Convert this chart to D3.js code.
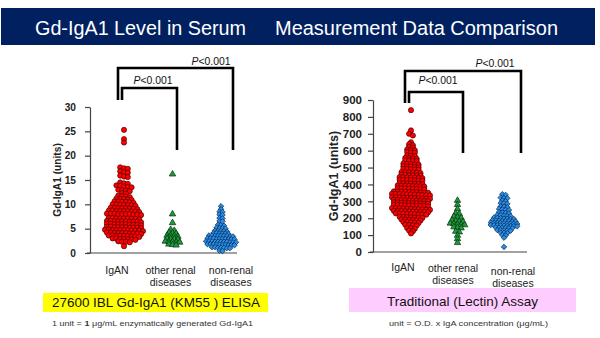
<!DOCTYPE html>
<html><head><meta charset="utf-8">
<script src="https://cdn.jsdelivr.net/npm/d3@7"></script>
<style>body{margin:0;background:#fff}svg{display:block;font-family:"Liberation Sans",Arial,sans-serif}</style>
</head><body><svg id="c" width="600" height="338"></svg>
<script>
// ---------- data ----------
const categories = ["IgAN", "other renal diseases", "non-renal diseases"];
const categoryLines = [["IgAN"], ["other renal", "diseases"], ["non-renal", "diseases"]];

const elisaTicks = [0, 5, 10, 15, 20, 25, 30];
const lectinTicks = [0, 100, 200, 300, 400, 500, 600, 700, 800, 900];

// 27600 IBL Gd-IgA1 (KM55) ELISA, units
const elisaIgAN = [
  25.3, 23.4, 22.7,
  17.6, 17.4, 17.3, 16.8, 16.6, 16.5, 15.9, 15.7, 15.6,
  14.5, 14.3, 14.2, 13.9, 13.8, 13.7, 13.6, 13.5, 13.0, 12.9, 12.8, 12.7, 12.3, 12.2,
  11.8, 11.7, 11.6, 11.5, 11.2, 11.1, 11.0, 10.9, 11.1,
  10.6, 10.5, 10.4, 10.5, 10.3, 10.6,
  10.0, 9.9, 9.8, 9.9, 9.7, 10.0, 9.8,
  9.3, 9.2, 9.1, 9.2, 9.0, 9.3, 9.1, 9.2,
  8.7, 8.6, 8.5, 8.6, 8.4, 8.7, 8.5, 8.6, 8.6,
  8.1, 8.0, 7.9, 8.0, 7.9, 8.1, 8.0, 7.8, 8.0, 8.1,
  7.2, 7.1, 7.0, 7.1, 6.9, 7.2, 7.0, 7.1, 7.1,
  6.6, 6.5, 6.4, 6.5, 6.3, 6.6, 6.4, 6.5, 6.5, 6.4,
  6.0, 5.9, 5.8, 5.9, 5.7, 6.0, 5.8, 5.9, 5.9, 5.8,
  5.4, 5.3, 5.2, 5.3, 5.1, 5.4, 5.2, 5.3, 5.3, 5.2,
  4.8, 4.7, 4.6, 4.7, 4.5, 4.8, 4.6, 4.7, 4.7, 4.6, 4.7,
  4.2, 4.1, 4.0, 4.1, 3.9, 4.2, 4.0, 4.1, 4.1, 4.0,
  3.6, 3.5, 3.4, 3.5, 3.3, 3.6, 3.4, 3.5, 3.5,
  3.0, 2.9, 2.8, 2.9, 2.7, 3.0, 2.8,
  2.4, 2.3, 2.2, 2.3,
  1.4
];
const elisaOther = [
  16.2, 8.0, 6.2, 4.8, 4.6, 4.2, 4.1, 4.0,
  3.6, 3.5, 3.5, 3.4, 3.0, 2.9, 2.9, 2.8,
  2.4, 2.3, 2.3, 2.2, 2.2, 1.8, 1.7, 1.6
];
const elisaNonRenal = [
  9.6, 9.0, 8.5, 8.4, 7.9, 7.8, 7.2, 7.1, 6.6, 6.5,
  5.8, 5.7, 5.6, 5.2, 5.1, 5.1, 5.0, 4.6, 4.5, 4.5, 4.5, 4.4,
  4.1, 4.1, 4.0, 4.0, 4.0, 3.9,
  3.6, 3.5, 3.5, 3.5, 3.4, 3.5, 3.6, 3.5, 3.4,
  3.0, 2.9, 2.8, 2.9, 2.8, 3.0, 2.9, 2.9, 2.8, 3.0,
  2.4, 2.3, 2.2, 2.3, 2.2, 2.4, 2.3, 2.3, 2.2, 2.4, 2.3,
  1.8, 1.7, 1.6, 1.7, 1.6, 1.8, 1.7, 1.7, 1.6, 1.8,
  1.2, 1.1, 1.0, 1.1, 1.0, 1.2, 1.1,
  0.5, 0.4
];

// Traditional (Lectin) Assay, units
const lectinIgAN = [
  840, 720, 700, 690, 650, 638, 632, 622, 618,
  607, 604, 602, 592, 588, 590, 572, 568, 570,
  557, 553, 555, 552, 542, 538, 540, 543,
  522, 518, 520, 523, 517, 507, 503, 505, 502, 508,
  492, 488, 490, 487, 493, 472, 468, 470, 473, 467, 471,
  457, 453, 455, 452, 458, 454, 442, 438, 440, 437, 443, 441, 439,
  427, 423, 425, 422, 428, 424, 426, 407, 403, 405, 402, 408, 404, 406,
  392, 388, 390, 387, 393, 389, 391, 394, 377, 373, 375, 372, 378, 374, 376, 371,
  357, 353, 355, 352, 358, 354, 356, 351, 359, 350,
  342, 338, 340, 337, 343, 339, 341, 336, 344, 335, 345,
  322, 318, 320, 317, 323, 319, 321, 316, 324, 315, 325,
  307, 303, 305, 302, 308, 304, 306, 301, 309, 300,
  292, 288, 290, 287, 293, 289, 291, 286, 294, 285,
  277, 273, 275, 272, 278, 274, 276, 271, 279, 270,
  257, 253, 255, 252, 258, 254, 256, 251, 259, 250, 260,
  242, 238, 240, 237, 243, 239, 241, 236, 244, 235,
  227, 223, 225, 222, 228, 224, 226, 221, 229,
  207, 203, 205, 202, 208, 204, 206,
  192, 188, 190, 187, 193, 189,
  177, 173, 175, 172, 178,
  162, 158, 160, 157,
  142, 138, 140, 127, 123, 110
];
const lectinOther = [
  305, 280, 255, 230, 226, 210, 206, 202, 188, 185, 182, 180,
  170, 167, 164, 162, 160, 148, 145, 142, 122, 118, 98, 78, 55
];
const lectinNonRenal = [
  342, 338, 322, 320, 318, 305, 301, 290, 288, 285, 270, 268, 265,
  255, 252, 250, 248, 236, 234, 231, 229, 220, 218, 216, 214, 212,
  204, 202, 200, 198, 197, 196, 195,
  188, 186, 185, 184, 183, 182, 181, 180,
  174, 173, 172, 171, 170, 169, 168, 167, 166,
  160, 159, 158, 157, 156, 155, 154, 153, 152,
  145, 144, 143, 142, 141, 140, 130, 129, 128, 127, 126,
  115, 114, 112, 100, 98, 85, 30
];

// ---------- drawing ----------
const svg = d3.select("#c");

// title banner
svg.append("rect").attr("x", 1).attr("y", 8).attr("width", 594).attr("height", 37).attr("fill", "#002060");
svg.append("text").attr("x", 35).attr("y", 35).attr("fill", "#fff").attr("font-size", 19.5)
  .attr("textLength", 211).attr("lengthAdjust", "spacingAndGlyphs").text("Gd-IgA1 Level in Serum");
svg.append("text").attr("x", 275).attr("y", 35).attr("fill", "#fff").attr("font-size", 19.5)
  .attr("textLength", 283).attr("lengthAdjust", "spacingAndGlyphs").text("Measurement Data Comparison");

const styles = [
  {sym: d3.symbolCircle, size: 21, fill: "#ff0000", stroke: "#4a0000", rot: 0},
  {sym: d3.symbolTriangle, size: 18, fill: "#1f9a3c", stroke: "#06300f", rot: 0},
  {sym: d3.symbolSquare, size: 15, fill: "#2b8fe8", stroke: "#062a55", rot: 45}
];

function rowsOf(values, tol) {
  const s = values.slice().sort((a, b) => b - a);
  const rows = [];
  let cur = null;
  s.forEach(v => {
    if (!cur || cur.start - v > tol) { cur = {start: v, vals: []}; rows.push(cur); }
    cur.vals.push(v);
  });
  return rows;
}

function drawChart(cfg) {
  const g = svg.append("g");
  const y = d3.scaleLinear().domain([cfg.ticks[0], cfg.ticks[cfg.ticks.length - 1]]).range(cfg.yRange);
  const x = d3.scalePoint().domain(categories).range(cfg.xRange);

  // axes
  const ax = g.append("g").attr("transform", `translate(${cfg.axisX},0)`)
    .call(d3.axisLeft(y).tickValues(cfg.ticks).tickSize(5).tickSizeOuter(0).tickPadding(cfg.pad));
  ax.select(".domain").attr("stroke", "#444").attr("stroke-width", 1.2);
  ax.selectAll(".tick line").attr("stroke", "#444").attr("stroke-width", 1.2);
  ax.selectAll(".tick text").attr("font-size", cfg.tickFont).attr("font-weight", "bold")
    .attr("fill", "#222").attr("font-family", "Liberation Sans, Arial, sans-serif");
  g.append("line").attr("x1", cfg.axisX - 3).attr("x2", cfg.axisEnd)
    .attr("y1", y(0)).attr("y2", y(0)).attr("stroke", "#444").attr("stroke-width", 1.2);

  // axis title
  g.append("text").attr("transform", `translate(${cfg.titleX},${(cfg.yRange[0] + cfg.yRange[1]) / 2}) rotate(-90)`)
    .attr("text-anchor", "middle").attr("font-weight", "bold").attr("font-size", cfg.titleFont)
    .attr("fill", "#222").text("Gd-IgA1 (units)");

  // category labels
  categories.forEach((c, i) => {
    const t = g.append("text").attr("text-anchor", "middle").attr("font-size", 10.5).attr("fill", "#222");
    categoryLines[i].forEach((ln, j) => {
      t.append("tspan").attr("x", x(c) + cfg.labelDx[i]).attr("y", cfg.labelY[i] + j * 12).text(ln);
    });
  });

  // dots
  cfg.series.forEach((vals, i) => {
    const st = styles[i];
    const sp = cfg.spacing[i];
    const gen = d3.symbol(st.sym, st.size);
    const pts = [];
    rowsOf(vals, cfg.tol).forEach(r => {
      const n = r.vals.length;
      r.vals.forEach((v, k) => pts.push({v, dx: (k - (n - 1) / 2) * sp}));
    });
    g.append("g").selectAll("path").data(pts).join("path")
      .attr("d", gen)
      .attr("transform", d => `translate(${x(categories[i]) + d.dx},${y(d.v)}) rotate(${st.rot})`)
      .attr("fill", st.fill).attr("stroke", st.stroke).attr("stroke-width", 0.7);
  });

  // significance brackets
  cfg.brackets.forEach(b => {
    g.append("path").attr("d", `M${b.x1},${b.yLow}V${b.yTop}H${b.x2}V${b.yEnd}`)
      .attr("fill", "none").attr("stroke", "#000").attr("stroke-width", 2.6);
    const t = g.append("text").attr("x", b.lx).attr("y", b.ly).attr("text-anchor", "middle")
      .attr("font-size", 10.4).attr("fill", "#111");
    t.append("tspan").attr("font-style", "italic").text("P");
    t.append("tspan").text("<0.001");
  });
}

drawChart({
  ticks: elisaTicks, yRange: [253, 107], xRange: [124, 221], axisX: 90, axisEnd: 237,
  pad: 9, tickFont: 10.2, titleFont: 10.2, titleX: 61,
  labelDx: [-7, -2, 10], labelY: [274, 274, 274],
  series: [elisaIgAN, elisaOther, elisaNonRenal], tol: 0.45, spacing: [3.8, 3.6, 3.0],
  brackets: [
    {x1: 118, x2: 233, yLow: 100, yTop: 68, yEnd: 150, lx: 211, ly: 65},
    {x1: 122, x2: 177, yLow: 100, yTop: 88, yEnd: 150, lx: 153, ly: 84}
  ]
});
drawChart({
  ticks: lectinTicks, yRange: [252, 100], xRange: [411, 504], axisX: 373, axisEnd: 527,
  pad: 6, tickFont: 11.5, titleFont: 12.5, titleX: 338,
  labelDx: [-8, -4.5, 9], labelY: [271, 272, 275],
  series: [lectinIgAN, lectinOther, lectinNonRenal], tol: 10, spacing: [3.8, 3.6, 3.3],
  brackets: [
    {x1: 405, x2: 521, yLow: 103, yTop: 71, yEnd: 153, lx: 495, ly: 67},
    {x1: 409, x2: 463, yLow: 103, yTop: 92, yEnd: 153, lx: 438, ly: 84}
  ]
});

// method boxes
svg.append("rect").attr("x", 43).attr("y", 293).attr("width", 225).attr("height", 19).attr("fill", "#ffff00");
svg.append("text").attr("x", 52).attr("y", 307).attr("font-size", 13.5).attr("fill", "#111")
  .attr("textLength", 208).attr("lengthAdjust", "spacingAndGlyphs").text("27600 IBL Gd-IgA1 (KM55 ) ELISA");
svg.append("rect").attr("x", 349).attr("y", 288).attr("width", 227).attr("height", 24).attr("fill", "#ffccff");
svg.append("text").attr("x", 387).attr("y", 306).attr("font-size", 13.5).attr("fill", "#111")
  .attr("textLength", 151).attr("lengthAdjust", "spacingAndGlyphs").text("Traditional (Lectin) Assay");

// unit notes
const n1 = svg.append("text").attr("x", 52).attr("y", 326).attr("font-size", 8).attr("fill", "#333")
  .attr("textLength", 201).attr("lengthAdjust", "spacingAndGlyphs");
n1.append("tspan").text("1 unit  = ");
n1.append("tspan").attr("font-weight", "bold").text("1");
n1.append("tspan").text(" μg/mL enzymatically generated Gd-IgA1");
svg.append("text").attr("x", 389).attr("y", 326).attr("font-size", 8).attr("fill", "#333")
  .attr("textLength", 159).attr("lengthAdjust", "spacingAndGlyphs")
  .text("unit  = O.D. x IgA concentration (μg/mL)");
</script></body></html>
